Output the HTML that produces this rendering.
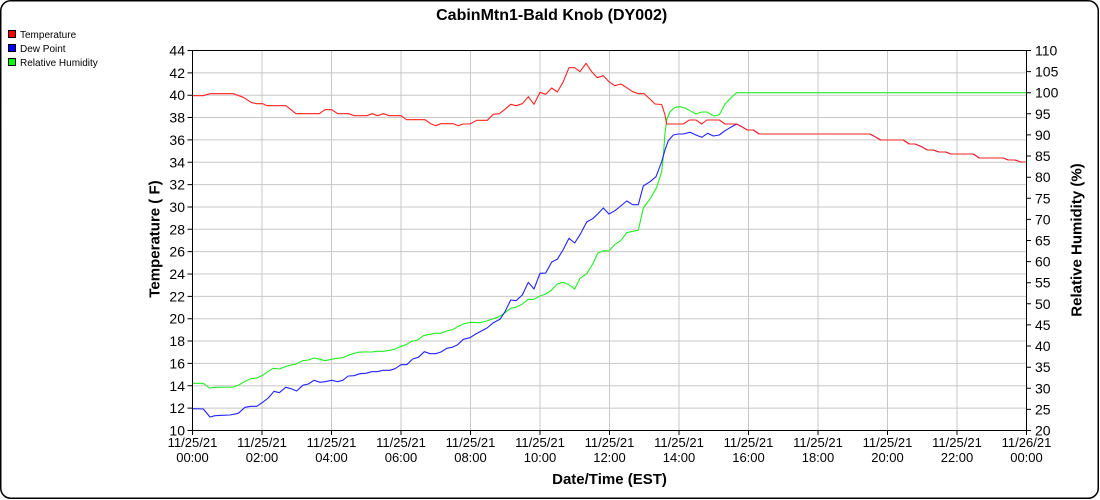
<!DOCTYPE html>
<html><head><meta charset="utf-8"><style>
html,body{margin:0;padding:0;background:#fff;}
svg{display:block;font-family:"Liberation Sans",Arial,sans-serif;}
</style></head><body>
<svg width="1100" height="500" viewBox="0 0 1100 500" xmlns="http://www.w3.org/2000/svg">
<rect x="0.75" y="0.75" width="1097.5" height="497.5" rx="10" ry="10" fill="#fff" stroke="#000" stroke-width="1.5"/>
<text x="551.7" y="20" text-anchor="middle" font-size="16" font-weight="bold" fill="#000">CabinMtn1-Bald Knob (DY002)</text>
<!-- legend -->
<rect x="8.5" y="30.5" width="7" height="7" fill="#ff0000" stroke="#000" stroke-width="1"/>
<text x="20" y="38" font-size="10" fill="#000">Temperature</text>
<rect x="8.5" y="44.5" width="7" height="7" fill="#0000ff" stroke="#000" stroke-width="1"/>
<text x="20" y="52" font-size="10" fill="#000">Dew Point</text>
<rect x="8.5" y="58.5" width="7" height="7" fill="#00ff00" stroke="#000" stroke-width="1"/>
<text x="20" y="66" font-size="10" fill="#000">Relative Humidity</text>
<!-- grid -->
<g stroke="#c8c8c8" stroke-width="1" fill="none">
<path d="M262,50.5V430.5M331.5,50.5V430.5M401,50.5V430.5M470.5,50.5V430.5M540,50.5V430.5M609.5,50.5V430.5M679,50.5V430.5M748.5,50.5V430.5M818,50.5V430.5M887.5,50.5V430.5M957,50.5V430.5"/>
<path d="M192.5,72.85H1026.5M192.5,95.2H1026.5M192.5,117.55H1026.5M192.5,139.9H1026.5M192.5,162.25H1026.5M192.5,184.6H1026.5M192.5,206.95H1026.5M192.5,229.3H1026.5M192.5,251.65H1026.5M192.5,274H1026.5M192.5,296.35H1026.5M192.5,318.7H1026.5M192.5,341.05H1026.5M192.5,363.4H1026.5M192.5,385.75H1026.5M192.5,408.1H1026.5"/>
</g>
<!-- series -->
<g fill="none" stroke-width="1.1" stroke-linejoin="round">
<polyline stroke="#22ee22" points="192.5,383.3 203.3,383.3 209.3,388 215,387.3 233.3,387 238.3,385.3 245,381.3 251,378.7 256.7,378 262.7,375.3 268.3,371.3 273.3,368.3 279.3,369 285,366.7 290,365.3 296,364 302.7,360.7 308.3,360 314,358 320,359.3 325,360.7 331.7,359.3 336.7,358.3 342.7,357.7 348.3,355.3 354,353.3 360,352 371.7,352 377.3,351.3 383.3,351.3 390,350.3 395,349 400,346.7 406,344.7 411.7,341.3 417.7,340 423.3,335.7 430,334.3 435,333.3 440.7,333.3 446.7,331 452.3,329.7 457.7,326.7 463.3,324 470,322.3 480,322.7 486.7,321 493.3,318.7 499.3,316.7 505,312.7 510.7,308.3 516,307.3 522.3,304 528.3,299.3 534,299.3 540,296 545.7,294 551.7,290 557.3,284 563,282.3 569,284.7 574.7,289 580,278.3 586.7,273.7 592.7,264 597.7,253.3 603.3,250.7 609,251 615,244.3 620.7,240.7 626.7,232.7 632.7,231.3 638.3,230.3 643.3,208 650,199 656.7,187.3 661.7,171.7 663.3,156.7 665,133.3 666.7,120 670,111.7 675,107.3 680,106.7 685,108 690,110.7 696,114 701.7,112 706.7,112 714,116 719.3,114.7 725,104 730.7,98 736.7,92.7 1026.5,92.7"/>
<polyline stroke="#2222ff" points="192.5,408.7 203.3,409 210,417 215,415.7 221.7,415.3 230,415 238.3,413.3 245,407.3 251,406.3 256.7,406.3 262.7,402.3 268.3,398 274,391.3 279.3,392.7 285.7,387.3 291,388.7 296.7,391 302.7,385.3 308.3,384 314,380.3 320,382.3 325,381.7 331.7,380.3 337.7,381.7 342.7,380.3 348.3,376 354,375.7 360,373.7 366,373.3 371.7,371.7 377.3,371.7 383.3,370.3 390,370.3 395,368.7 401,364.7 406.7,364.7 412.7,359 418.3,357.3 424.3,351.7 430,353.7 435.7,353.7 441,352 446.7,348.3 452.3,347.3 457.7,344.7 463.3,339.3 470,337.7 475.7,334 481.3,331 487,328 493.3,322.7 500,319.3 505,311.7 510.7,300 516,300.7 522.3,295 528.3,282.3 534,289 540,273.3 545.7,273 551.7,262 557.3,259.3 563,250 569,238.3 574.7,243 580,234.7 586.7,222 592.7,218.7 597.7,214 603.3,208 609,214 615,210.7 620.7,206 626.7,201 632.7,204.7 638.3,204.7 643.3,186 650,181.7 656,176.7 661.7,161.7 665,150 668.3,140.7 673.3,135 678.3,134 683.3,134 690,132.3 696,135 701.7,137.3 707.7,133.3 713.3,136 719.3,135 725,130.7 730.7,127.3 736.7,124 742.7,127.3 747.3,130 753.3,130 759.3,134 870,134 875,136.7 880.7,140 903.3,140 909.3,144 915,144 921.7,146.7 927.3,150 933.3,150 939,152 945.7,152 950.7,154 973.3,154 979.3,158 1003.3,158 1008.3,160 1015,160 1020.7,162 1026.5,162"/>
<polyline stroke="#ff2222" points="192.5,95.7 203,95.7 210,93.7 233.3,93.7 243.3,97.3 251,102.3 256.7,103.7 262.7,103.7 267.3,105.7 286,105.7 296,113.7 319.3,113.7 325,109.7 331.7,109.7 337.7,113.7 348.3,113.7 354.3,115.7 366.7,115.7 372.3,113.7 377.7,115.7 383.3,113.7 389.3,115.7 401,115.7 406.7,119.7 425,119.7 430.7,123.7 435.7,125.7 441,123.7 453.3,123.7 458.3,125.7 463.3,124 470,124 476.7,120.3 487.3,120.3 493.3,114.3 499.3,113.7 505,109.3 510.7,104.3 516,105.7 522.3,103.7 528.3,96.7 534,104.3 540,92.3 545.7,94.3 551.7,88 557.3,92 563,82.3 569,67.7 574.7,67.7 580,71.7 586,63.3 591.7,71.7 597.3,77.7 603.3,75.7 609,81.7 614.7,85.7 621,84 626.7,87.7 632.7,91.7 638.3,93.7 644,93.7 650,99 655,104 661.7,104.5 665,115 666.7,124 683.3,124 689.3,120 696,120 701.7,124 706.7,120 719.3,120 725,124 736.7,124 742.7,127.3 747.3,130 753.3,130 759.3,134 870,134 875,136.7 880.7,140 903.3,140 909.3,144 915,144 921.7,146.7 927.3,150 933.3,150 939,152 945.7,152 950.7,154 973.3,154 979.3,158 1003.3,158 1008.3,160 1015,160 1020.7,162 1026.5,162"/>
</g>
<!-- axes box -->
<rect x="192.5" y="50.5" width="834" height="380" fill="none" stroke="#000" stroke-width="1"/>
<!-- left ticks -->
<g stroke="#000" stroke-width="1">
<path d="M187.5,50.5H192.5M187.5,72.85H192.5M187.5,95.2H192.5M187.5,117.55H192.5M187.5,139.9H192.5M187.5,162.25H192.5M187.5,184.6H192.5M187.5,206.95H192.5M187.5,229.3H192.5M187.5,251.65H192.5M187.5,274H192.5M187.5,296.35H192.5M187.5,318.7H192.5M187.5,341.05H192.5M187.5,363.4H192.5M187.5,385.75H192.5M187.5,408.1H192.5M187.5,430.5H192.5"/>
<path d="M1026.5,50.5H1031M1026.5,71.6H1031M1026.5,92.7H1031M1026.5,113.8H1031M1026.5,134.9H1031M1026.5,156H1031M1026.5,177.2H1031M1026.5,198.3H1031M1026.5,219.4H1031M1026.5,240.5H1031M1026.5,261.6H1031M1026.5,282.7H1031M1026.5,303.8H1031M1026.5,324.9H1031M1026.5,346H1031M1026.5,367.2H1031M1026.5,388.3H1031M1026.5,409.4H1031M1026.5,430.5H1031"/>
<path d="M192.5,430.5V435M262,430.5V435M331.5,430.5V435M401,430.5V435M470.5,430.5V435M540,430.5V435M609.5,430.5V435M679,430.5V435M748.5,430.5V435M818,430.5V435M887.5,430.5V435M957,430.5V435M1026.5,430.5V435"/>
</g>
<g font-size="14" fill="#000" text-anchor="end">
<text x="185" y="55.5">44</text><text x="185" y="77.85">42</text><text x="185" y="100.2">40</text><text x="185" y="122.55">38</text><text x="185" y="144.9">36</text><text x="185" y="167.25">34</text><text x="185" y="189.6">32</text><text x="185" y="211.95">30</text><text x="185" y="234.3">28</text><text x="185" y="256.65">26</text><text x="185" y="279">24</text><text x="185" y="301.35">22</text><text x="185" y="323.7">20</text><text x="185" y="346.05">18</text><text x="185" y="368.4">16</text><text x="185" y="390.75">14</text><text x="185" y="413.1">12</text><text x="185" y="435.5">10</text>
</g>
<g font-size="14" fill="#000" text-anchor="start">
<text x="1035" y="55.5">110</text><text x="1035" y="76.6">105</text><text x="1035" y="97.7">100</text><text x="1035" y="118.8">95</text><text x="1035" y="139.9">90</text><text x="1035" y="161">85</text><text x="1035" y="182.2">80</text><text x="1035" y="203.3">75</text><text x="1035" y="224.4">70</text><text x="1035" y="245.5">65</text><text x="1035" y="266.6">60</text><text x="1035" y="287.7">55</text><text x="1035" y="308.8">50</text><text x="1035" y="329.9">45</text><text x="1035" y="351">40</text><text x="1035" y="372.2">35</text><text x="1035" y="393.3">30</text><text x="1035" y="414.4">25</text><text x="1035" y="435.5">20</text>
</g>
<g font-size="13" fill="#000" text-anchor="middle">
<text x="192.5" y="447">11/25/21</text><text x="192.5" y="462">00:00</text>
<text x="262" y="447">11/25/21</text><text x="262" y="462">02:00</text>
<text x="331.5" y="447">11/25/21</text><text x="331.5" y="462">04:00</text>
<text x="401" y="447">11/25/21</text><text x="401" y="462">06:00</text>
<text x="470.5" y="447">11/25/21</text><text x="470.5" y="462">08:00</text>
<text x="540" y="447">11/25/21</text><text x="540" y="462">10:00</text>
<text x="609.5" y="447">11/25/21</text><text x="609.5" y="462">12:00</text>
<text x="679" y="447">11/25/21</text><text x="679" y="462">14:00</text>
<text x="748.5" y="447">11/25/21</text><text x="748.5" y="462">16:00</text>
<text x="818" y="447">11/25/21</text><text x="818" y="462">18:00</text>
<text x="887.5" y="447">11/25/21</text><text x="887.5" y="462">20:00</text>
<text x="957" y="447">11/25/21</text><text x="957" y="462">22:00</text>
<text x="1026.5" y="447">11/26/21</text><text x="1026.5" y="462">00:00</text>
</g>
<text x="609.5" y="484" text-anchor="middle" font-size="15" font-weight="bold" fill="#000">Date/Time (EST)</text>
<text transform="translate(159.5,239) rotate(-90)" text-anchor="middle" font-size="15" font-weight="bold" fill="#000">Temperature ( F)</text>
<text transform="translate(1081.5,240) rotate(-90)" text-anchor="middle" font-size="15" font-weight="bold" fill="#000">Relative Humidity (%)</text>
</svg>
</body></html>
